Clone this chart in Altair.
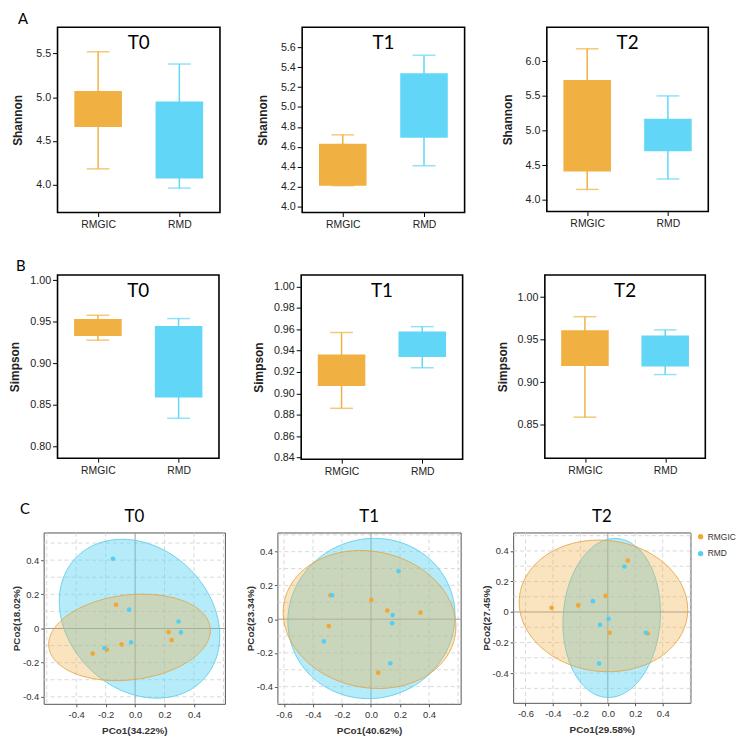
import numpy as np
import pandas as pd
import altair as alt

GROUPS = ["RMGIC", "RMD"]
TIMES = ["T0", "T1", "T2"]

BOX_ORANGE = "#F0B042"
BOX_BLUE = "#62D6F6"
PT_ORANGE = "#F2A634"
PT_BLUE = "#52CFF3"

# ---- A: Shannon  (whisker low, Q1, Q3, whisker high) for [RMGIC, RMD]
shannon_t0 = [[4.18, 4.66, 5.07, 5.52], [3.96, 4.07, 4.95, 5.38]]
shannon_t1 = [[4.21, 4.21, 4.63, 4.72], [4.41, 4.69, 5.34, 5.52]]
shannon_t2 = [[4.15, 4.41, 5.73, 6.18], [4.30, 4.70, 5.17, 5.50]]
shannon_domains = [[3.68, 5.80], [3.94, 5.80], [3.83, 6.49]]
shannon_ticks = [[4.0, 4.5, 5.0, 5.5],
                 [4.0, 4.2, 4.4, 4.6, 4.8, 5.0, 5.2, 5.4, 5.6],
                 [4.0, 4.5, 5.0, 5.5, 6.0]]

# ---- B: Simpson
simpson_t0 = [[0.928, 0.933, 0.9535, 0.958], [0.834, 0.859, 0.945, 0.954]]
simpson_t1 = [[0.886, 0.907, 0.9365, 0.957], [0.924, 0.934, 0.958, 0.9625]]
simpson_t2 = [[0.859, 0.919, 0.961, 0.977], [0.909, 0.9185, 0.955, 0.9615]]
simpson_domains = [[0.786, 1.0065], [0.8384, 1.0109], [0.8108, 1.026]]
simpson_ticks = [[0.80, 0.85, 0.90, 0.95, 1.00],
                 [0.84, 0.86, 0.88, 0.90, 0.92, 0.94, 0.96, 0.98, 1.00],
                 [0.85, 0.90, 0.95, 1.00]]

# ---- C: PCoA points
pcoa_t0_rmgic_x = [-0.130, 0.228, 0.248, -0.092, -0.192, -0.288]
pcoa_t0_rmgic_y = [0.139, -0.021, -0.068, -0.093, -0.124, -0.147]
pcoa_t0_rmd_x = [-0.150, -0.040, 0.295, 0.311, -0.027, -0.208]
pcoa_t0_rmd_y = [0.408, 0.110, 0.041, -0.023, -0.081, -0.114]

pcoa_t1_rmgic_x = [-0.279, 0.002, 0.112, 0.341, -0.291, 0.050]
pcoa_t1_rmgic_y = [0.142, 0.114, 0.051, 0.039, -0.041, -0.317]
pcoa_t1_rmd_x = [-0.268, 0.190, 0.149, 0.146, -0.325, 0.133]
pcoa_t1_rmd_y = [0.142, 0.284, 0.024, -0.024, -0.132, -0.262]

pcoa_t2_rmgic_x = [0.145, -0.017, -0.216, -0.410, 0.014, 0.291]
pcoa_t2_rmgic_y = [0.337, 0.106, 0.043, 0.028, -0.136, -0.141]
pcoa_t2_rmd_x = [0.121, -0.109, 0.005, -0.057, 0.277, -0.064]
pcoa_t2_rmd_y = [0.298, 0.071, -0.045, -0.084, -0.136, -0.337]

# ellipse parameters: centre x, centre y, half-width, half-height, covariance
ellipse_t0_rmgic = [-0.038, -0.052, 0.549, 0.253, 0.0225]
ellipse_t0_rmd = [0.030, 0.057, 0.545, 0.465, -0.055]
ellipse_t1_rmgic = [-0.010, -0.002, 0.595, 0.409, -0.025]
ellipse_t1_rmd = [0.003, 0.004, 0.576, 0.475, 0.010]
ellipse_t2_rmgic = [-0.032, 0.040, 0.614, 0.431, -0.015]
ellipse_t2_rmd = [0.028, -0.039, 0.355, 0.521, 0.0125]

pcoa_xtitles = ["PCo1(34.22%)", "PCo1(40.62%)", "PCo1(29.58%)"]
pcoa_ytitles = ["PCo2(18.02%)", "PCo2(23.34%)", "PCo2(27.45%)"]
pcoa_xdomains = [[-0.621, 0.610], [-0.645, 0.618], [-0.690, 0.602]]
pcoa_ydomains = [[-0.441, 0.562], [-0.502, 0.514], [-0.595, 0.521]]
pcoa_xlabels = [[-0.4, -0.2, 0.0, 0.2, 0.4],
                [-0.6, -0.4, -0.2, 0.0, 0.2, 0.4],
                [-0.6, -0.4, -0.2, 0.0, 0.2, 0.4]]
pcoa_ylabels = [-0.4, -0.2, 0.0, 0.2, 0.4]
pcoa_xgrid = [-0.6, -0.4, -0.2, 0.2, 0.4, 0.6]
pcoa_ygrid = [-0.5, -0.4, -0.3, -0.2, -0.1, 0.1, 0.2, 0.3, 0.4, 0.5]

AXFONT = "Liberation Sans"
TFONT = "Lato"
MINUS = "\u2212"


def box_panel(vals, dom, ticks, fmt, label, tname, W, H, pre=0, tpad=11):
    df = pd.DataFrame({
        "group": GROUPS,
        "low": [v[0] for v in vals],
        "q1": [v[1] for v in vals],
        "q3": [v[2] for v in vals],
        "high": [v[3] for v in vals],
    })
    xs = alt.Scale(type="point", domain=GROUPS, padding=0.5, range=[pre, pre + W])
    ys = alt.Scale(domain=dom, nice=False, zero=False)
    color = alt.Color("group:N", scale=alt.Scale(domain=GROUPS, range=[BOX_ORANGE, BOX_BLUE]), legend=None)
    xax = alt.Axis(title=None, labelAngle=0, domain=False, tickSize=4, tickColor="#000",
                   labelFontSize=10.5, labelColor="#222", labelPadding=3, labelFont=AXFONT)
    yax = alt.Axis(values=ticks, format=fmt, domain=False, tickSize=5, tickColor="#000",
                   labelFontSize=10.8, labelColor="#222", labelPadding=2, labelFont=AXFONT,
                   labelOverlap=False, offset=-pre,
                   titleFontSize=12, titleFontWeight="bold", titleColor="#222", titlePadding=tpad,
                   titleFont=AXFONT, grid=False)
    base = alt.Chart(df).encode(x=alt.X("group:N", scale=xs, axis=xax, title=None))
    whisk = base.mark_rule(strokeWidth=1.5).encode(
        y=alt.Y("low:Q", scale=ys, axis=yax, title=label), y2="high:Q", color=color)
    cap_lo = base.mark_tick(size=23, thickness=1.5).encode(
        y=alt.Y("low:Q", scale=ys, axis=yax, title=label), color=color)
    cap_hi = base.mark_tick(size=23, thickness=1.5).encode(
        y=alt.Y("high:Q", scale=ys, axis=yax, title=label), color=color)
    box = base.mark_bar(size=48).encode(
        y=alt.Y("q1:Q", scale=ys, axis=yax, title=label), y2="q3:Q", color=color)
    txt = alt.Chart(pd.DataFrame({"t": [tname]})).mark_text(
        font=TFONT, fontSize=19, baseline="alphabetic", align="center", color="#000"
    ).encode(text="t:N", x=alt.value(pre + W / 2), y=alt.value(22))
    layers = [whisk, cap_lo, cap_hi, box, txt]
    if pre > 0:
        frame = alt.Chart(pd.DataFrame({"f": [tname]})).mark_rect(
            fillOpacity=0, stroke="#000", strokeWidth=1.6).encode(
            x=alt.value(pre), x2=alt.value(pre + W), y=alt.value(0), y2=alt.value(H))
        layers.append(frame)
        view = alt.ViewBackground(stroke="transparent", strokeWidth=0)
    else:
        view = alt.ViewBackground(stroke="#000", strokeWidth=1.6)
    return alt.layer(*layers).properties(width=W + pre, height=H, view=view)


def ellipse_df(p, n=160):
    cx, cy, hw, hh, cov = p
    a = hw ** 2
    b = hh ** 2
    t = np.linspace(np.pi, 0, n)
    dx = hw * np.cos(t)
    mid = cy + cov / a * dx
    half = np.sqrt(max(b - cov ** 2 / a, 0.0)) * np.sqrt(np.clip(1 - dx ** 2 / a, 0, None))
    return pd.DataFrame({"x": cx + dx, "y": mid - half, "y2": mid + half})


def pcoa_panel(i, ox, oy, bx, by, eo, eb, W, H, legend):
    xdom = pcoa_xdomains[i]
    ydom = pcoa_ydomains[i]
    xt = pcoa_xtitles[i]
    yt = pcoa_ytitles[i]
    xs = alt.Scale(domain=xdom, nice=False, zero=False)
    ys = alt.Scale(domain=ydom, nice=False, zero=False)
    xax = alt.Axis(values=pcoa_xlabels[i], grid=False, domain=False, tickSize=3,
                   tickColor="#555", labelFontSize=9.5, labelColor="#333", labelFont=AXFONT,
                   labelOverlap=False,
                   labelExpr="replace(format(datum.value, '.1f'), '" + MINUS + "', '-')",
                   titleFontSize=10, titleFontWeight="bold", titleColor="#333", titleFont=AXFONT,
                   titlePadding=6, labelPadding=3)
    yax = alt.Axis(values=pcoa_ylabels, grid=False, domain=False, tickSize=3, tickColor="#555",
                   labelFontSize=9.5, labelColor="#333", labelFont=AXFONT, labelOverlap=False,
                   labelExpr="datum.value == 0 ? '0' : replace(format(datum.value, '.1f'), '" + MINUS + "', '-')",
                   titleFontSize=10, titleFontWeight="bold", titleColor="#333", titleFont=AXFONT,
                   titlePadding=1, labelPadding=2)
    X = lambda f: alt.X(f, scale=xs, axis=xax, title=xt)
    Y = lambda f: alt.Y(f, scale=ys, axis=yax, title=yt)
    xg = [v for v in pcoa_xgrid if xdom[0] <= v <= xdom[1]]
    yg = [v for v in pcoa_ygrid if ydom[0] <= v <= ydom[1]]
    gx = alt.Chart(pd.DataFrame({"v": xg})).mark_rule(
        color="#cfcfcf", strokeDash=[4, 3], strokeWidth=0.8).encode(
        x=X("v:Q"), y=alt.value(0), y2=alt.value(H))
    gy = alt.Chart(pd.DataFrame({"v": yg})).mark_rule(
        color="#cfcfcf", strokeDash=[4, 3], strokeWidth=0.8).encode(
        y=Y("v:Q"), x=alt.value(0), x2=alt.value(W))
    zx = alt.Chart(pd.DataFrame({"v": [0.0]})).mark_rule(color="#9a9a9a", strokeWidth=1).encode(
        x=X("v:Q"), y=alt.value(0), y2=alt.value(H))
    zy = alt.Chart(pd.DataFrame({"v": [0.0]})).mark_rule(color="#9a9a9a", strokeWidth=1).encode(
        y=Y("v:Q"), x=alt.value(0), x2=alt.value(W))

    def ell(p, fill, stroke, op):
        return alt.Chart(ellipse_df(p)).mark_area(
            fill=fill, fillOpacity=op, stroke=stroke, strokeWidth=0.9, clip=True).encode(
            x=X("x:Q"), y=Y("y:Q"), y2="y2:Q")

    e_b = ell(eb, "#5ED3F3", "#5ACDEB", 0.45)
    e_o = ell(eo, "#F2AF48", "#E3A445", 0.35)
    pts = pd.DataFrame({
        "x": ox + bx, "y": oy + by,
        "group": [GROUPS[0]] * len(ox) + [GROUPS[1]] * len(bx),
    })
    leg = alt.Legend(title=None, orient="right", offset=6, labelFontSize=8.5, labelFont=AXFONT,
                     labelColor="#333", symbolType="circle", symbolSize=28, rowPadding=8,
                     labelOffset=3, symbolStrokeWidth=0, padding=0) if legend else None
    points = alt.Chart(pts).mark_circle(size=22, opacity=1).encode(
        x=X("x:Q"), y=Y("y:Q"),
        color=alt.Color("group:N", scale=alt.Scale(domain=GROUPS, range=[PT_ORANGE, PT_BLUE]), legend=leg),
    )
    return alt.layer(gx, gy, zx, zy, e_b, e_o, points).properties(
        width=W, height=H,
        title=alt.TitleParams(TIMES[i], font=TFONT, fontSize=17, fontWeight="normal", offset=6, color="#000"),
        view=alt.ViewBackground(stroke="#555", strokeWidth=1))


def row_title(letter, dx, dy=0):
    return alt.TitleParams(letter, anchor="start", font=TFONT, fontSize=15, fontWeight="normal",
                           dx=dx, dy=dy, offset=0, color="#000")


PRE = 14

rowA = alt.hconcat(
    box_panel(shannon_t0, shannon_domains[0], shannon_ticks[0], ".1f", "Shannon", "T0", 164, 187, PRE),
    box_panel(shannon_t1, shannon_domains[1], shannon_ticks[1], ".1f", "Shannon", "T1", 164, 187),
    box_panel(shannon_t2, shannon_domains[2], shannon_ticks[2], ".1f", "Shannon", "T2", 163, 186),
    spacing=83, bounds="flush", title=row_title("A", 6),
).resolve_scale(color="independent")

rowB = alt.hconcat(
    box_panel(simpson_t0, simpson_domains[0], simpson_ticks[0], ".2f", "Simpson", "T0", 163, 185, PRE, 8),
    box_panel(simpson_t1, simpson_domains[1], simpson_ticks[1], ".2f", "Simpson", "T1", 163, 186, 0, 8),
    box_panel(simpson_t2, simpson_domains[2], simpson_ticks[2], ".2f", "Simpson", "T2", 162, 185, 0, 8),
    spacing=83, bounds="flush", title=row_title("B", 7),
).resolve_scale(color="independent")

rowC = alt.hconcat(
    pcoa_panel(0, pcoa_t0_rmgic_x, pcoa_t0_rmgic_y, pcoa_t0_rmd_x, pcoa_t0_rmd_y,
               ellipse_t0_rmgic, ellipse_t0_rmd, 183, 173, False),
    pcoa_panel(1, pcoa_t1_rmgic_x, pcoa_t1_rmgic_y, pcoa_t1_rmd_x, pcoa_t1_rmd_y,
               ellipse_t1_rmgic, ellipse_t1_rmd, 185, 173, False),
    pcoa_panel(2, pcoa_t2_rmgic_x, pcoa_t2_rmgic_y, pcoa_t2_rmd_x, pcoa_t2_rmd_y,
               ellipse_t2_rmgic, ellipse_t2_rmd, 179, 172, True),
    spacing=53, bounds="flush", title=row_title("C", 9, dy=9),
).resolve_scale(color="independent")

rowsAB = alt.vconcat(rowA, rowB, spacing=250, bounds="flush").resolve_scale(color="independent")

chart = alt.vconcat(rowsAB, rowC, spacing=510, bounds="flush").resolve_scale(
    color="independent").properties(
    padding={"left": 0, "top": 0, "right": 0, "bottom": 0}
).configure(background="white").configure_view(stroke="#000")

chart.save("out.html", embed_options={"renderer": "svg", "actions": False})
